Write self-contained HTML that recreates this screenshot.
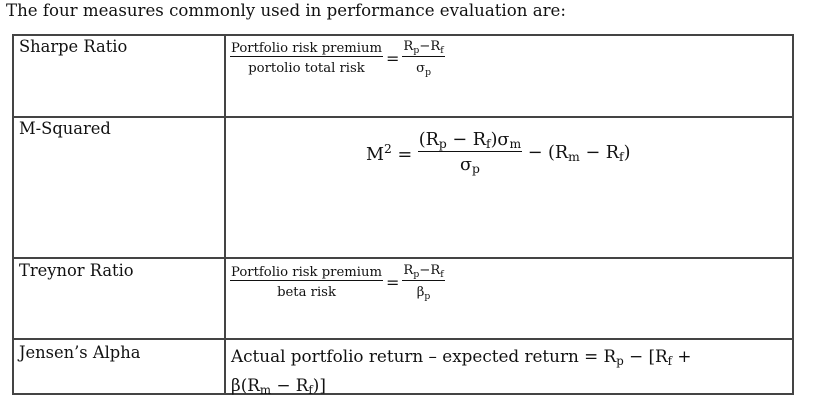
<!DOCTYPE html>
<html><head><meta charset="utf-8">
<style>
body{margin:0;width:821px;height:405px;background:#fff;position:relative;overflow:hidden;font-family:"DejaVu Serif","Liberation Serif",serif;color:#111}
.a{position:absolute;white-space:nowrap}
.h{position:absolute;height:2px;background:#444}
.v{position:absolute;width:2px;background:#444}
.fr{display:inline-flex;flex-direction:column;align-items:center}
.fr .n{border-bottom:1.5px solid #111;padding:0 1px}
sub{font-size:70%;vertical-align:-3px}
</style></head><body>
<div class="a" style="left:6px;top:1px;font-size:16.6px">The four measures commonly used in performance evaluation are:</div>
<div>
<div class="h" style="left:13px;top:34px;width:781px"></div>
<div class="h" style="left:13px;top:116px;width:781px"></div>
<div class="h" style="left:13px;top:257px;width:781px"></div>
<div class="h" style="left:13px;top:338px;width:781px"></div>
<div class="h" style="left:13px;top:393px;width:781px"></div>
<div class="v" style="left:12px;top:34px;height:361px"></div>
<div class="v" style="left:224px;top:34px;height:361px"></div>
<div class="v" style="left:792px;top:34px;height:361px"></div>
</div>
<div class="a" style="left:19px;top:37px;font-size:16.3px">Sharpe Ratio</div>
<div class="a" style="left:19px;top:119px;font-size:16.3px">M-Squared</div>
<div class="a" style="left:19px;top:261px;font-size:16.3px">Treynor Ratio</div>
<div class="a" style="left:19px;top:343px;font-size:16.3px">Jensen’s Alpha</div>

<div class="a" style="left:230px;top:39px;font-size:13.2px;display:flex;align-items:center">
<span class="fr"><span class="n">Portfolio risk premium</span><span style="padding-top:4px">portolio total risk</span></span>
<span style="font-size:16px;margin:0 3px">=</span>
<span class="fr"><span class="n">R<sub>p</sub>−R<sub>f</sub></span><span style="padding-top:4px">σ<sub>p</sub></span></span>
</div>

<div class="a" style="left:366px;top:130px;font-size:17.6px;display:flex;align-items:center">
<span>M<sup style="font-size:70%">2</sup> =&nbsp;</span>
<span class="fr"><span class="n">(R<sub>p</sub> − R<sub>f</sub>)σ<sub>m</sub></span><span style="padding-top:3px">σ<sub>p</sub></span></span>
<span>&nbsp;− (R<sub>m</sub> − R<sub>f</sub>)</span>
</div>

<div class="a" style="left:230px;top:263px;font-size:13.2px;display:flex;align-items:center">
<span class="fr"><span class="n">Portfolio risk premium</span><span style="padding-top:4px">beta risk</span></span>
<span style="font-size:16px;margin:0 3px">=</span>
<span class="fr"><span class="n">R<sub>p</sub>−R<sub>f</sub></span><span style="padding-top:4px">β<sub>p</sub></span></span>
</div>

<div class="a" style="left:231px;top:344px;font-size:16.8px;line-height:24px">Actual portfolio return – expected return = R<sub>p</sub> − [R<sub>f</sub> +<br>β(R<sub>m</sub> − R<sub>f</sub>)]</div>
</body></html>
